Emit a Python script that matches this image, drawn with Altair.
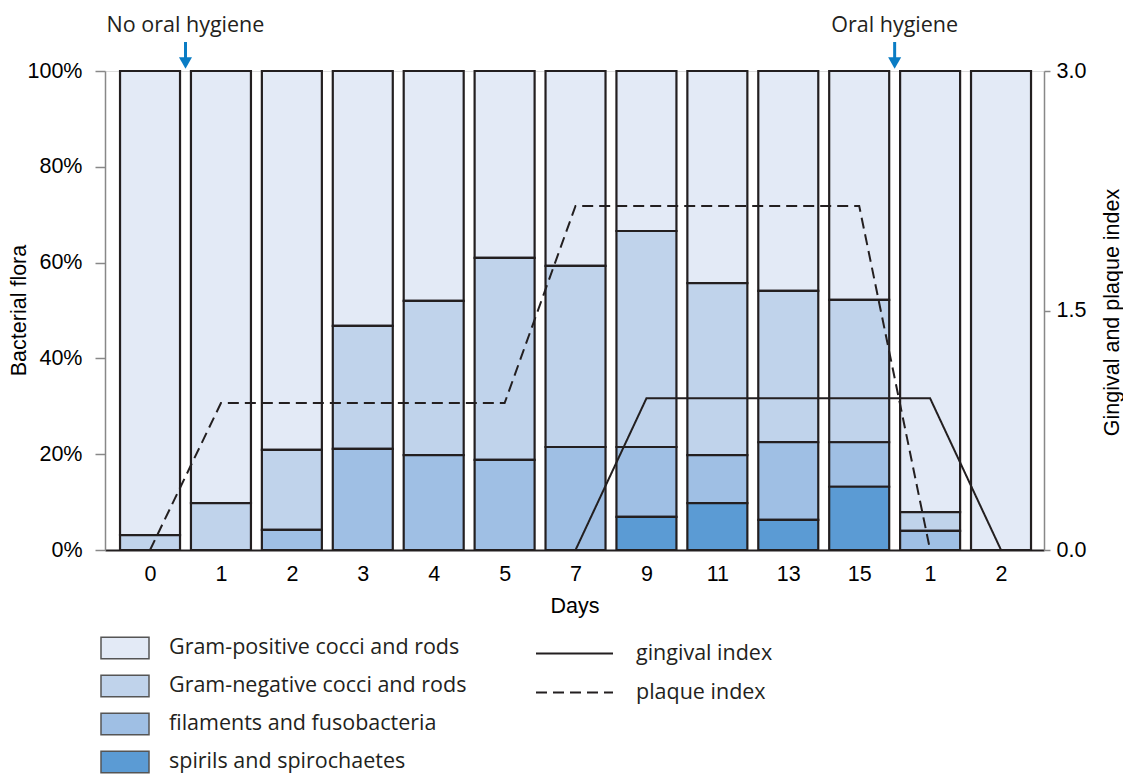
import json
import altair as alt
import pandas as pd

# ---- data ----
days = ["0", "1", "2", "3", "4", "5", "7", "9", "11", "13", "15", "1", "2"]
groups = ["Gram-positive cocci and rods", "Gram-negative cocci and rods",
          "filaments and fusobacteria", "spirils and spirochaetes"]
gram_pos = [96.9, 90.2, 79.1, 53.2, 48.0, 39.0, 40.7, 33.4, 44.3, 45.9, 47.8, 92.1, 100.0]
gram_neg = [3.1, 9.8, 16.7, 25.7, 32.2, 42.2, 37.8, 45.1, 35.9, 31.6, 29.7, 3.9, 0.0]
filaments = [0.0, 0.0, 4.2, 21.1, 19.8, 18.8, 21.5, 14.6, 10.0, 16.2, 9.3, 4.0, 0.0]
spirils = [0.0, 0.0, 0.0, 0.0, 0.0, 0.0, 0.0, 6.9, 9.8, 6.3, 13.2, 0.0, 0.0]
plaque = [0.0, 0.92, 0.92, 0.92, 0.92, 0.92, 2.155, 2.155, 2.155, 2.155, 2.155, 0.0, None]
gingival = [None, None, None, None, None, None, 0.0, 0.95, 0.95, 0.95, 0.95, 0.95, 0.0]
index_names = ["gingival index", "plaque index"]
events = ["No oral hygiene", "Oral hygiene"]
event_pos = [0.5, 10.5]

colors = ["#e3eaf6", "#c0d3eb", "#9fbfe4", "#5b9bd4"]
FONT = "Open Sans"
FS = 21.5
INK = "#231f20"

rows = []
for i, d in enumerate(days):
    for g, series, o in zip(groups, [gram_pos, gram_neg, filaments, spirils], [3, 2, 1, 0]):
        rows.append({"idx": i, "day": d, "group": g, "value": series[i], "ord": o})
bars_df = pd.DataFrame(rows)

lrows = []
for i in range(len(days)):
    if gingival[i] is not None:
        lrows.append({"idx": i, "index": index_names[0], "v": gingival[i]})
    if plaque[i] is not None:
        lrows.append({"idx": i, "index": index_names[1], "v": plaque[i]})
lines_df = pd.DataFrame(lrows)

ev_df = pd.DataFrame({"idx": event_pos, "label": events})

xdom = [-0.635, 12.606]
label_expr = json.dumps(days) + "[datum.value]"

xenc = alt.X("idx:Q", scale=alt.Scale(domain=xdom, nice=False, zero=False, padding=0),
             axis=alt.Axis(values=list(range(len(days))), labelExpr=label_expr,
                           ticks=False, domain=True, domainWidth=2, domainColor=INK,
                           labelPadding=13, labelFontSize=FS, title="Days",
                           titleFontSize=FS, titleFontWeight="normal",
                           titleY=56, titleBaseline="middle", grid=False))

bars = alt.Chart(bars_df).mark_bar(width=60, stroke=INK, strokeWidth=2.2).encode(
    x=xenc,
    y=alt.Y("value:Q", stack="zero", scale=alt.Scale(domain=[0, 100], nice=False),
            axis=alt.Axis(orient="left", values=[0, 20, 40, 60, 80, 100],
                          labelExpr="datum.value + '%'", tickSize=10, labelPadding=13,
                          domainWidth=1.5, tickWidth=1.5, labelFontSize=FS,
                          title="Bacterial flora", titleFontSize=FS,
                          titleFontWeight="normal", titleAngle=270, titleX=-86,
                          titleY=239, titleBaseline="middle", titleAlign="center",
                          grid=False)),
    fill=alt.Fill("group:N", scale=alt.Scale(domain=groups, range=colors),
                  legend=alt.Legend(orient="none", legendX=7, legendY=564, title=None,
                                    symbolType="M-2,-0.9H2V0.9H-2Z", symbolSize=576,
                                    symbolStrokeColor="#555555", symbolStrokeWidth=1.5,
                                    symbolOpacity=1, labelOffset=31, rowPadding=10,
                                    labelFontSize=FS, labelLimit=500, labelColor=INK,
                                    labelFont=FONT, direction="vertical")),
    order=alt.Order("ord:Q"),
)

lines = alt.Chart(lines_df).mark_line(color=INK, strokeWidth=2).encode(
    x=xenc,
    y=alt.Y("v:Q", scale=alt.Scale(domain=[0, 3], nice=False),
            axis=alt.Axis(orient="right", values=[0, 1.5, 3], format=".1f",
                          tickSize=6, labelPadding=6, domainWidth=1.5, tickWidth=1.5,
                          labelFontSize=FS, title="Gingival and plaque index",
                          titleFontSize=FS, titleFontWeight="normal", titleAngle=270,
                          titleX=68, titleY=241, titleBaseline="middle",
                          titleAlign="center", grid=False)),
    strokeDash=alt.StrokeDash("index:N", scale=alt.Scale(domain=index_names,
                                                         range=[[1, 0], [11, 6]]),
                              legend=alt.Legend(orient="none", legendX=449, legendY=562,
                                                title=None, symbolType="M-2,0H2",
                                                symbolSize=1482, symbolStrokeColor=INK,
                                                symbolStrokeWidth=2, labelOffset=41,
                                                rowPadding=8, labelFontSize=FS,
                                                labelLimit=500, labelColor=INK,
                                                labelFont=FONT, direction="vertical")),
)

ev_text = alt.Chart(ev_df).mark_text(fontSize=FS, font=FONT, color=INK, align="center",
                                     baseline="middle").encode(
    x=xenc, y=alt.value(-45), text="label:N")
ev_shaft = alt.Chart(ev_df).mark_rule(color="#0a7cc4", strokeWidth=3).encode(
    x=xenc, y=alt.value(-29), y2=alt.value(-12))
ev_head = alt.Chart(ev_df).mark_point(shape="triangle-down", filled=True, size=170,
                                      color="#0a7cc4", opacity=1).encode(
    x=xenc, y=alt.value(-8))

chart = alt.layer(bars, lines, ev_text, ev_shaft, ev_head).resolve_scale(
    y="independent"
).properties(
    width=939, height=479,
    autosize=alt.AutoSizeParams(type="none"),
    padding={"left": 97, "top": 63, "right": 79, "bottom": 225},
).configure_view(stroke=None).configure_axis(
    domainColor=INK, tickColor=INK, labelColor=INK, titleColor=INK,
    labelFont=FONT, titleFont=FONT,
).configure(background="white")

chart.save("out.html", embed_options={"renderer": "svg", "actions": False})
